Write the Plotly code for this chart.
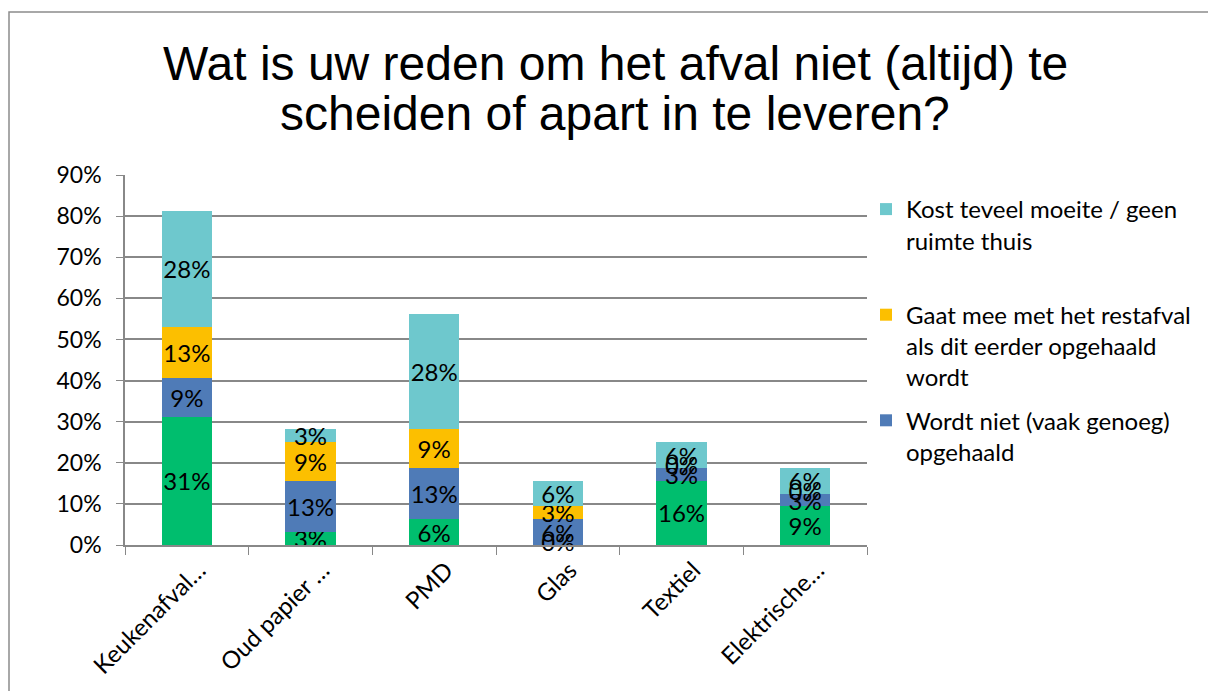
import plotly.graph_objects as go

categories = ["Keukenafval…", "Oud papier …", "PMD", "Glas", "Textiel", "Elektrische…"]

# shares of respondents (fractions)
green_vals = [0.3125, 0.03125, 0.0625, 0.0, 0.15625, 0.09375]
blue_vals = [0.09375, 0.125, 0.125, 0.0625, 0.03125, 0.03125]
yellow_vals = [0.125, 0.09375, 0.09375, 0.03125, 0.0, 0.0]
teal_vals = [0.28125, 0.03125, 0.28125, 0.0625, 0.0625, 0.0625]

title_lines = ["Wat is uw reden om het afval niet (altijd) te",
               "scheiden of apart in te leveren?"]

series = [
    ("Overig", green_vals, "#00BE6E", False),
    ("Wordt niet (vaak genoeg)<br>opgehaald", blue_vals, "#4F7BB7", True),
    ("Gaat mee met het restafval<br>als dit eerder opgehaald<br>wordt", yellow_vals, "#FCBF00", True),
    ("Kost teveel moeite / geen<br>ruimte thuis<br> ", teal_vals, "#6EC8CD", True),
]

FONT = "Lato, Open Sans, sans-serif"
LABEL_FONT = dict(family=FONT, size=24, color="black")

fig = go.Figure()
cum = [0.0] * len(categories)
zero_x, zero_y, zero_t = [], [], []
n = len(series)
for i, (name, vals, color, show) in enumerate(series):
    fig.add_trace(go.Bar(
        x=categories, y=vals, name=name, marker=dict(color=color, line=dict(width=0)),
        texttemplate="%{y:.0%}", textposition="inside", insidetextanchor="middle",
        textangle=0, constraintext="none", textfont=LABEL_FONT, showlegend=show,
        legendgroup=f"g{i}", legendrank=100 * (n - i),
    ))
    for j, v in enumerate(vals):
        if v == 0:
            zero_x.append(categories[j])
            zero_y.append(cum[j])
            zero_t.append(f"{v:.0%}")
    cum = [c + v for c, v in zip(cum, vals)]

fig.add_trace(go.Scatter(
    x=zero_x, y=zero_y, text=zero_t, mode="text", textposition="middle center",
    textfont=LABEL_FONT, showlegend=False, hoverinfo="skip", cliponaxis=False,
))

W, H = 1208, 691
L, R, T, B = 125, 341, 175, 146
pw, ph = W - L - R, H - T - B

TITLE_FONT = dict(family="Liberation Sans, Arial, sans-serif", size=48, color="black")
annotations = [
    dict(text=title_lines[0], xref="paper", yref="paper", x=(615 - L) / pw, y=1 + (T - 64) / ph,
         xanchor="center", yanchor="middle", showarrow=False, font=TITLE_FONT),
    dict(text=title_lines[1], xref="paper", yref="paper", x=(615 - L) / pw, y=1 + (T - 114) / ph,
         xanchor="center", yanchor="middle", showarrow=False, font=TITLE_FONT),
]

fig.update_layout(
    width=W, height=H,
    barmode="stack", bargap=0.595,
    plot_bgcolor="white", paper_bgcolor="white",
    margin=dict(l=L, r=R, t=T, b=B, autoexpand=False),
    annotations=annotations,
    legend=dict(
        x=(866 - L) / pw, xanchor="left", y=(545 - 187) / ph, yanchor="top",
        traceorder="grouped", font=dict(family=FONT, size=24, color="black"),
        tracegroupgap=9, itemwidth=30, bgcolor="rgba(0,0,0,0)", valign="top",
    ),
    xaxis=dict(
        type="category", tickson="boundaries", ticks="outside", ticklen=8,
        tickcolor="#888888", showline=True, linecolor="#888888", linewidth=1.5,
        tickangle=-45, tickfont=dict(family=FONT, size=24, color="black"), showgrid=False,
        ticklabelshift=12,
    ),
    yaxis=dict(
        range=[0, 0.9], dtick=0.1, tickformat=".0%", ticks="outside", ticklen=7,
        tickcolor="#888888", showline=True, linecolor="#888888", linewidth=1.5,
        gridcolor="#888888", gridwidth=1.5, tickfont=dict(family=FONT, size=23, color="black"),
        zeroline=False, ticklabelstandoff=10,
    ),
    shapes=[dict(
        type="rect", xref="paper", yref="paper",
        x0=(9 - L) / pw, x1=(W + 20 - L) / pw,
        y0=-(H + 20 - T - ph) / ph, y1=1 + (T - 12) / ph,
        line=dict(color="#8c8c8c", width=1.5), fillcolor="rgba(0,0,0,0)", layer="below",
    )],
)

fig.write_html("out.html", config={"displayModeBar": False},
               post_script="document.body.style.margin='0';")
